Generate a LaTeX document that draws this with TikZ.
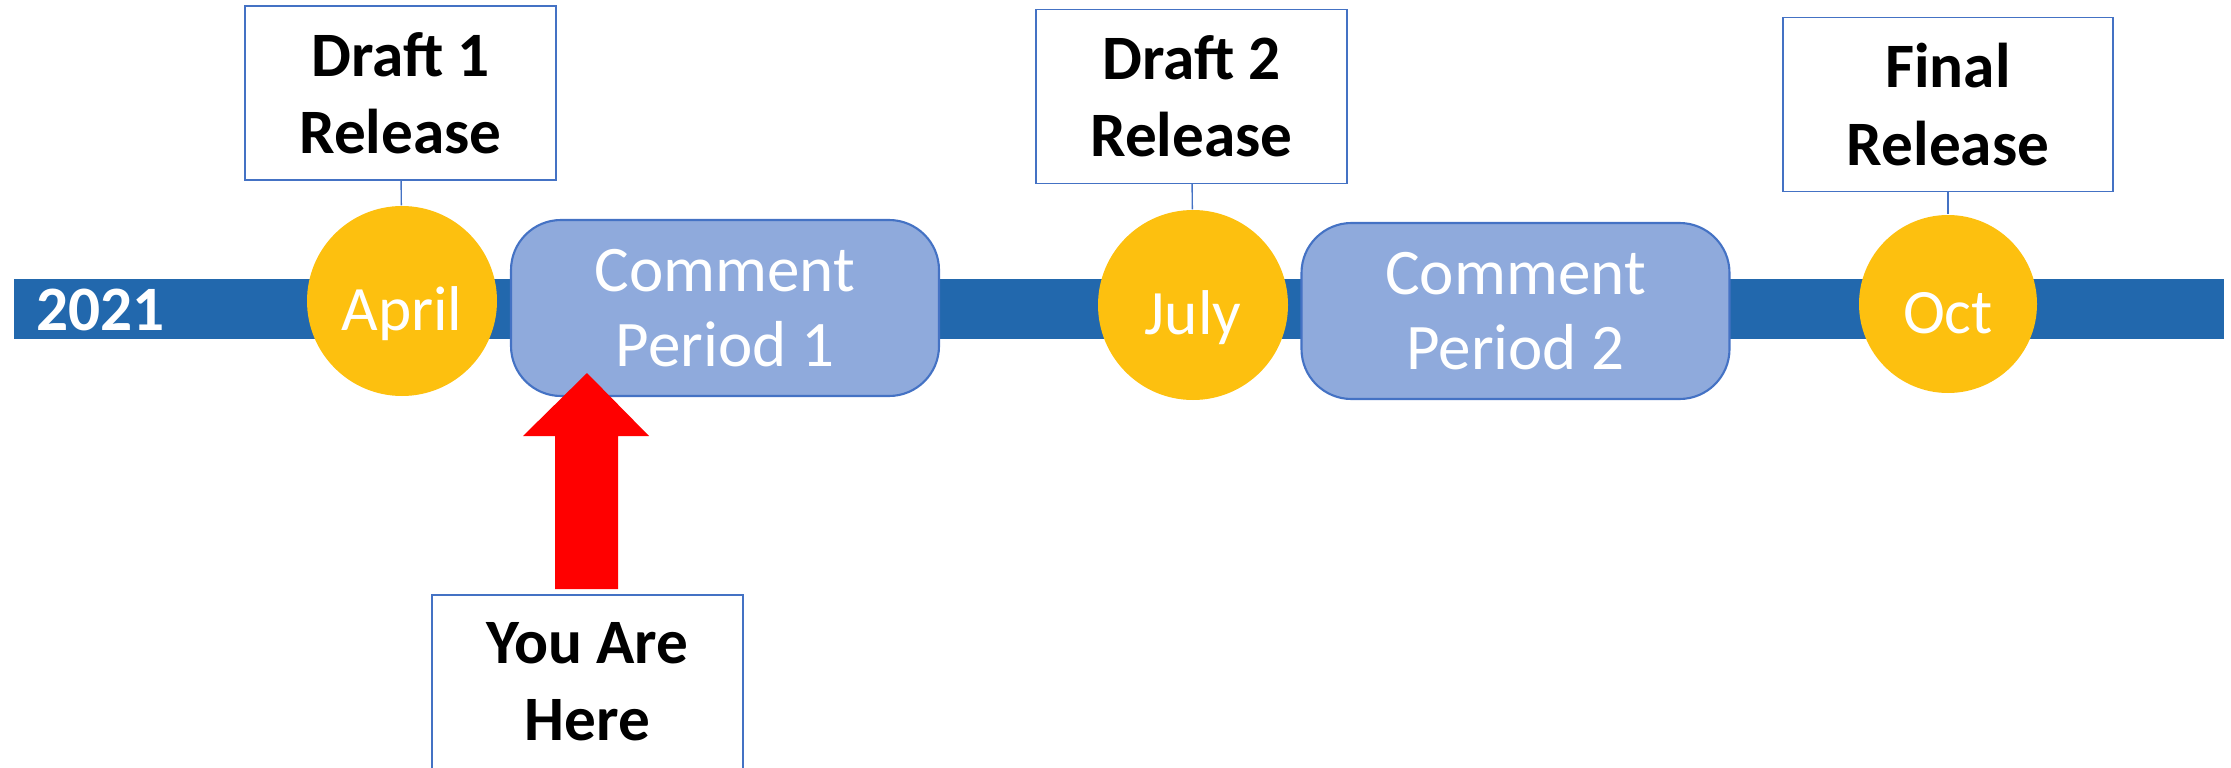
\documentclass[tikz,border=0pt]{standalone}
\usepackage{fontspec}
\setmainfont{Carlito}
\definecolor{barblue}{HTML}{2268AD}
\definecolor{gold}{HTML}{FDC00F}
\definecolor{periodfill}{HTML}{8FAADC}
\definecolor{periodedge}{HTML}{4472C4}
\begin{document}
\begin{tikzpicture}[-, line width=0.4pt]
    \tikzstyle{month}=[circle, fill=gold, text=white, minimum size=1.9cm, inner sep=0pt, font=\fontsize{18}{22}\selectfont, text height=0.58cm, text depth=0pt]
    \tikzstyle{period}=[rectangle, rounded corners=0.5cm, draw=periodedge, line width=0.6pt, fill=periodfill, text=white, minimum width=4.28cm, minimum height=1.76cm, align=center, font=\fontsize{18.5}{21.5}\selectfont]
    \tikzstyle{release}=[rectangle, draw=periodedge, fill=white, minimum width=3.11cm, minimum height=1.74cm, align=center, font=\fontsize{18}{22}\selectfont\bfseries]

    \useasboundingbox (0,0) rectangle (22.31,-7.68);
    \clip (0,0) rectangle (22.31,-7.68);

    \fill[barblue] (0.14,-2.79) rectangle (22.24,-3.39);
    \node[anchor=base west, inner sep=0pt, text=white, font=\fontsize{18}{22}\selectfont\bfseries] (year) at (0.36,-3.30) {2021};

    \node[month] (apr) at (4.02,-3.01) {April};
    \node[month] (jul) at (11.93,-3.05) {July};
    \node[month, minimum size=1.78cm] (oct) at (19.48,-3.04) {Oct};

    \node[period] (cp1) at (7.25,-3.08) {Comment\\Period 1};
    \node[period] (cp2) at (15.155,-3.11) {Comment\\Period 2};

    \node[release] (d1) at (4.005,-0.93) {Draft 1\\Release};
    \node[release] (d2) at (11.915,-0.965) {Draft 2\\Release};
    \node[release, minimum width=3.30cm] (fin) at (19.48,-1.045) {Final\\Release};
    \node[release] (here) at (5.875,-6.82) {You Are\\Here};

    \path[periodedge] (d1) edge (apr);
    \path[periodedge] (d2) edge (jul);
    \path[periodedge] (fin) edge (oct);

    % you are here arrow
    \fill[red] (5.55,-5.89) -- (5.55,-4.36) -- (5.23,-4.36) -- (5.87,-3.73)
        -- (6.49,-4.36) -- (6.18,-4.36) -- (6.18,-5.89) -- cycle;
\end{tikzpicture}
\end{document}
